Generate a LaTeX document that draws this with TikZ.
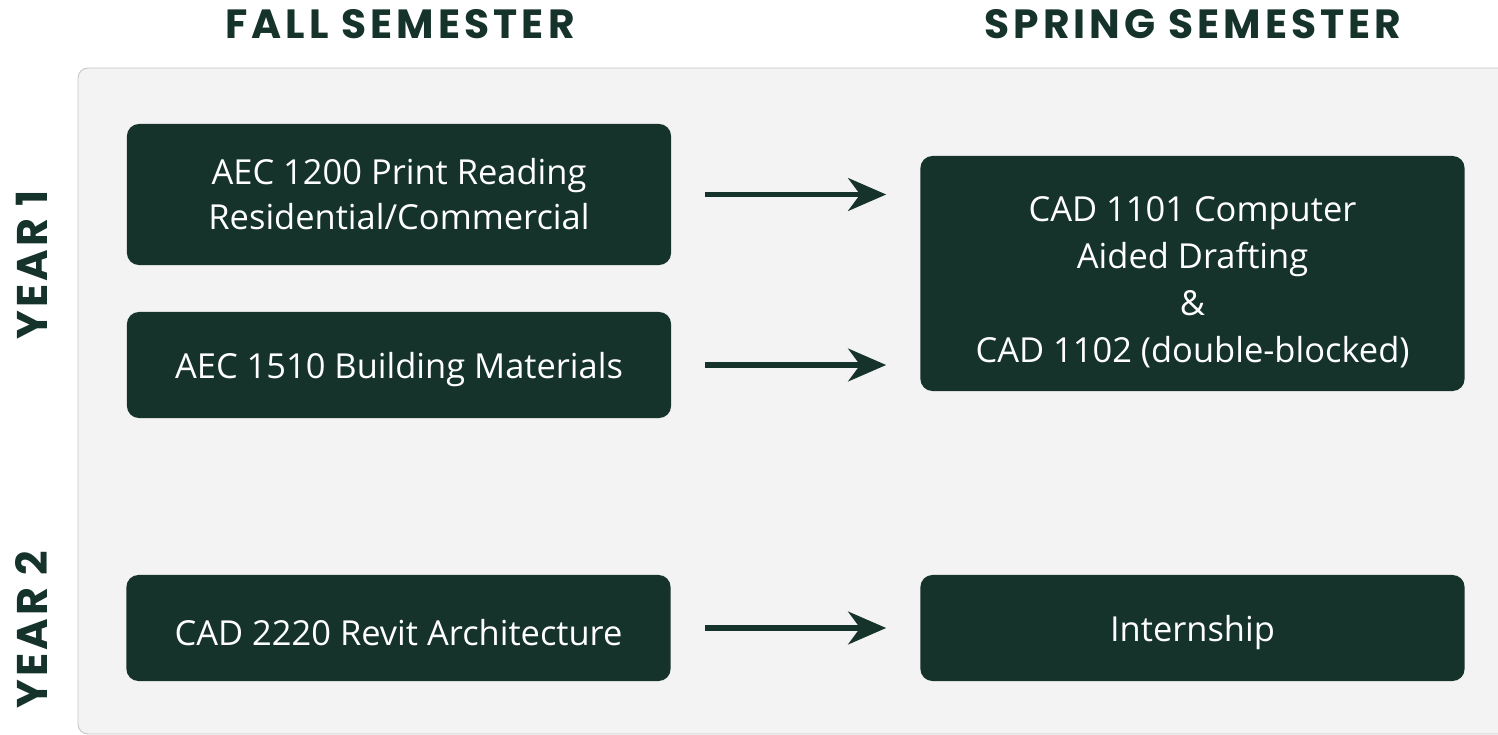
\documentclass[tikz,border=0pt]{standalone}
\usepackage{fontspec}
\setmainfont{Open Sans}
\newfontfamily\headfont[LetterSpace=10]{Poppins}
\newfontfamily\yearfont[LetterSpace=7]{Poppins}
\usepackage{tikz}
\usetikzlibrary{arrows.meta, positioning}
\definecolor{pine}{RGB}{21,50,43}
\definecolor{panelgray}{RGB}{243,243,243}
\definecolor{panelline}{RGB}{200,200,200}
\tikzstyle{course}=[rectangle, rounded corners=0.3cm, fill=pine, text=white, inner sep=0pt, align=center, minimum width=13.6cm, font=\fontsize{24.5}{32}\selectfont, execute at begin node={\rule{0pt}{25pt}}]
\tikzstyle{semester}=[text=pine, font=\headfont\bfseries\fontsize{29}{32}\selectfont]
\tikzstyle{year}=[text=pine, rotate=90, font=\yearfont\bfseries\fontsize{30.5}{32}\selectfont]
\tikzstyle{flow}=[draw=pine, line width=3.6pt, -{Stealth[length=0.95cm, width=0.82cm, inset=0.3cm]}, shorten <=0.85cm, shorten >=0.85cm]

\begin{document}
\begin{tikzpicture}[x=0.025cm, y=-0.025cm]
          \useasboundingbox (0,0) rectangle (1498,735);
          \begin{scope}
            \clip (0,0) rectangle (1498,735);
            \draw[panelline, fill=panelgray, line width=0.7pt, rounded corners=0.25cm] (78,68) rectangle (1530,734);
          \end{scope}

          % headings
          \node[semester] (fall) at (400,24) {FALL SEMESTER};
          \node[semester] (spring) at (1193,24) {SPRING SEMESTER};
          \node[year] (y1) at (32,265) {YEAR 1};
          \node[year] (y2) at (32,630) {YEAR 2};

          % courses
          \node[course, minimum height=3.525cm] (aec1200) at (399,194.5) {AEC 1200 Print Reading\\Residential/Commercial};
          \node[course, minimum height=2.65cm] (aec1510) at (399,365) {AEC 1510 Building Materials};
          \node[course, minimum height=5.875cm, font=\fontsize{24.5}{33.5}\selectfont] (cad1101) at (1192.5,273.5) {\rule{0pt}{30pt}CAD 1101 Computer\\Aided Drafting\\\&\\CAD 1102 (double-blocked)};
          \node[course, minimum height=2.65cm] (cad2220) at (398.5,628) {CAD 2220 Revit Architecture};
          \node[course, minimum height=2.65cm] (intern) at (1192.5,628) {Internship};

          \draw[flow] (aec1200.east) -- (aec1200.east -| cad1101.west);
          \draw[flow] (aec1510.east) -- (aec1510.east -| cad1101.west);
          \draw[flow] (cad2220.east) -- (intern.west);
        \end{tikzpicture}
\end{document}
